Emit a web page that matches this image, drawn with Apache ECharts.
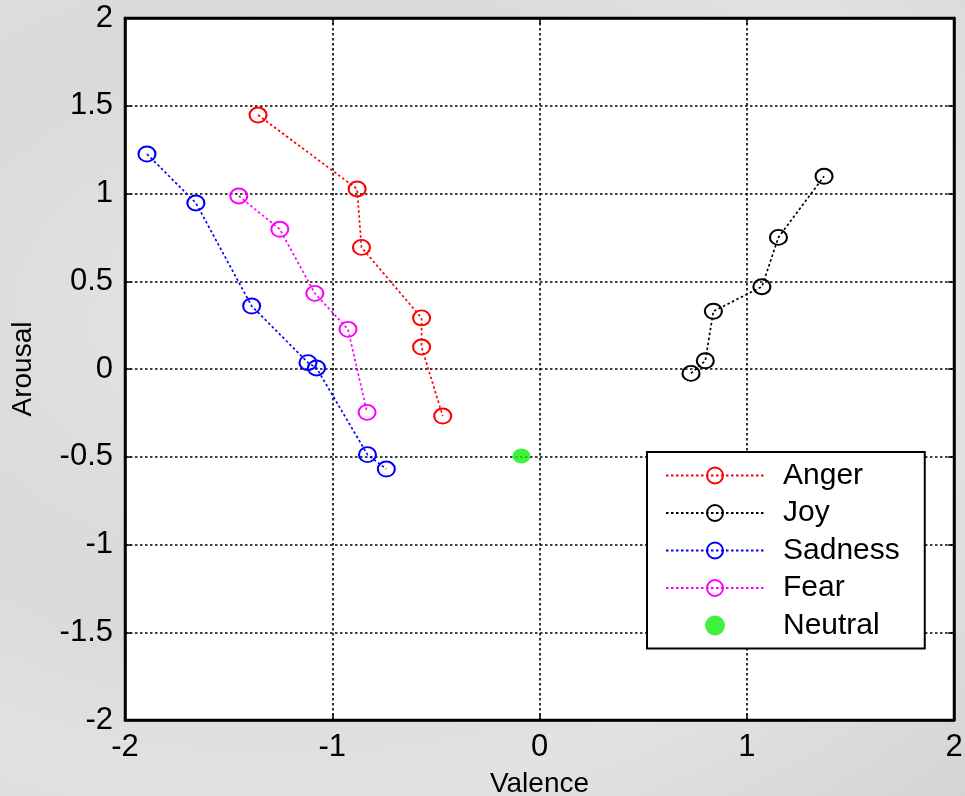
<!DOCTYPE html>
<html><head><meta charset="utf-8">
<script src="https://cdn.jsdelivr.net/npm/echarts@6/dist/echarts.min.js"></script>
<style>
html,body{margin:0;padding:0;overflow:hidden;}
body{background:radial-gradient(ellipse at 30% 40%, #e6e6e6 0%, #d9d9d9 45%, #e2e2e2 70%, #d4d4d4 100%);}
#c{width:965px;height:796px}
</style>
</head><body><div id="c"></div>
<script>
// Data
const angerX   = [-1.358, -0.880, -0.859, -0.569, -0.569, -0.467];
const angerY   = [ 1.447,  1.026,  0.693,  0.291,  0.125, -0.268];
const joyX     = [ 0.731,  0.800,  0.839,  1.073,  1.153,  1.373];
const joyY     = [-0.025,  0.047,  0.329,  0.469,  0.750,  1.098];
const sadnessX = [-1.894, -1.658, -1.389, -1.117, -1.076, -0.830, -0.739];
const sadnessY = [ 1.225,  0.946,  0.359,  0.036,  0.006, -0.488, -0.570];
const fearX    = [-1.451, -1.253, -1.084, -0.924, -0.832];
const fearY    = [ 0.986,  0.796,  0.431,  0.226, -0.247];
const neutralX = [-0.087];
const neutralY = [-0.496];
const seriesNames = ['Anger', 'Joy', 'Sadness', 'Fear', 'Neutral'];

const zip = (xs, ys) => xs.map((x, i) => [x, ys[i]]);
const FONT = 'Liberation Sans';
const DASH = [2.5, 2.5];

function lineSeries(name, xs, ys, color) {
  return {
    name: name, type: 'line', data: zip(xs, ys),
    symbol: 'circle', symbolSize: [17, 15],
    itemStyle: { color: 'rgba(255,255,255,0)', borderColor: color, borderWidth: 2 },
    lineStyle: { color: color, width: 1.7, type: DASH },
    emphasis: { disabled: true }, animation: false, z: 3
  };
}

const chart = echarts.init(document.getElementById('c'), null, { renderer: 'canvas' });
const splitL = { show: true, lineStyle: { color: '#000', width: 1.6, type: DASH } };
const axisCommon = {
  type: 'value', min: -2, max: 2,
  axisLine: { show: true, onZero: false, lineStyle: { color: '#000', width: 2.5 } },
  axisTick: { show: true, inside: true, length: 6, lineStyle: { color: '#000', width: 1.5 } },
  splitLine: splitL,
  nameTextStyle: { color: '#000', fontFamily: FONT, fontSize: 28 }
};

chart.setOption({
  backgroundColor: 'transparent',
  animation: false,
  grid: { left: 125, right: 11, top: 18, bottom: 76, containLabel: false, outerBoundsMode: 'none',
    show: true, backgroundColor: '#fff', borderColor: '#000', borderWidth: 2.5 },
  xAxis: [Object.assign({}, axisCommon, {
    position: 'bottom', interval: 1, name: 'Valence', nameLocation: 'middle', nameGap: 50,
    axisLabel: { color: '#000', fontFamily: FONT, fontSize: 31, margin: 12 }
  }), Object.assign({}, axisCommon, {
    position: 'top', interval: 1, axisLabel: { show: false }, splitLine: { show: false }
  })],
  yAxis: [Object.assign({}, axisCommon, {
    position: 'left', interval: 0.5, name: 'Arousal', nameLocation: 'middle', nameGap: 88,
    axisLabel: { color: '#000', fontFamily: FONT, fontSize: 31, margin: 12 }
  }), Object.assign({}, axisCommon, {
    position: 'right', interval: 0.5, axisLabel: { show: false }, splitLine: { show: false }
  })],
  legend: {
    orient: 'vertical', left: 647, top: 452,
    padding: [8.5, 25, 8, 18],
    backgroundColor: '#fff', borderColor: '#000', borderWidth: 2,
    itemWidth: 98, itemHeight: 20, itemGap: 7.5,
    textStyle: { color: '#000', fontFamily: FONT, fontSize: 30, padding: [0, 0, 0, 14] },
    data: seriesNames
  },
  series: [
    lineSeries(seriesNames[0], angerX, angerY, '#ff0000'),
    lineSeries(seriesNames[1], joyX, joyY, '#000000'),
    lineSeries(seriesNames[2], sadnessX, sadnessY, '#0000ff'),
    lineSeries(seriesNames[3], fearX, fearY, '#ff00ff'),
    {
      name: seriesNames[4], type: 'scatter', data: zip(neutralX, neutralY),
      symbol: 'circle', symbolSize: [18, 15],
      itemStyle: { color: '#11ee11' }, emphasis: { disabled: true }, z: 4
    }
  ]
});
</script>
</body></html>
